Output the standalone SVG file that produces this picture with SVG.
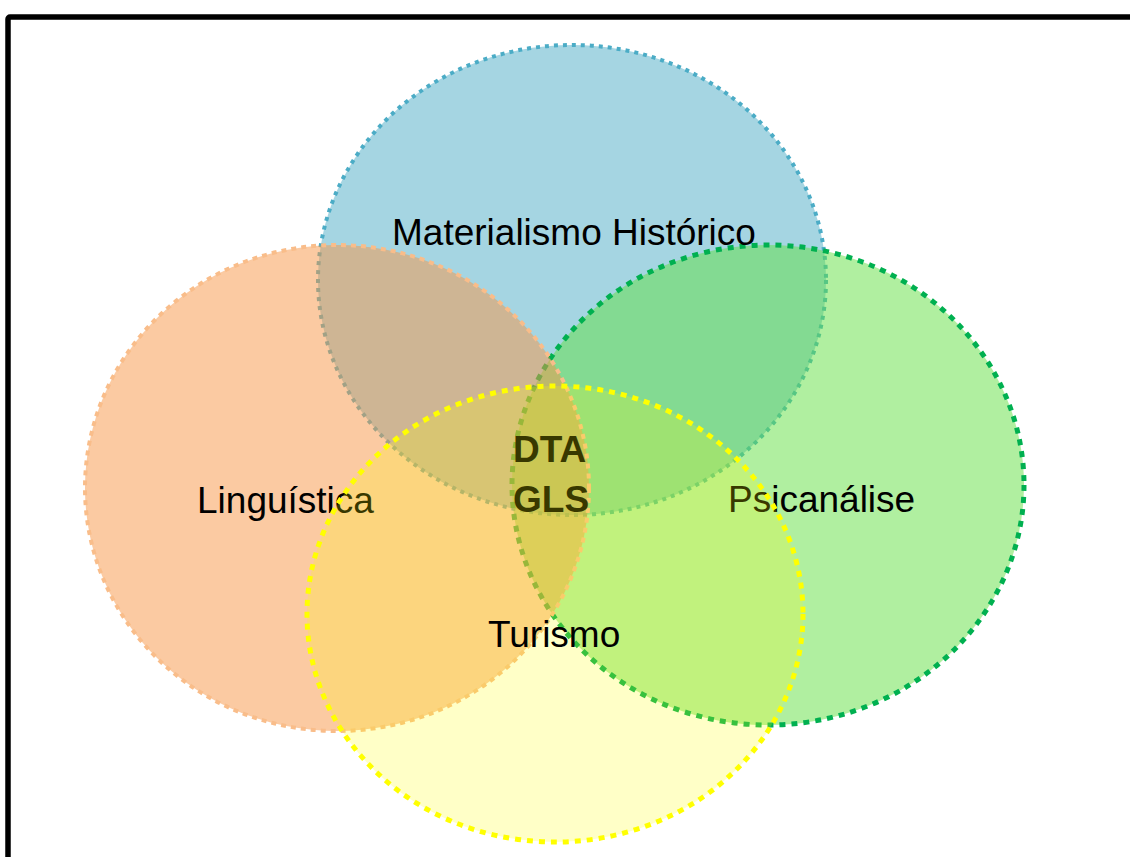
<svg xmlns="http://www.w3.org/2000/svg" width="1130" height="857" viewBox="0 0 1130 857">
  <style>
    .set { stroke-linecap: butt; }
    .blue { fill: #4bacc6; fill-opacity: 0.5; stroke: #4bacc6; stroke-width: 4; stroke-dasharray: 4 5; }
    .green { fill: #61df41; fill-opacity: 0.5; stroke: #00b050; stroke-width: 5; stroke-dasharray: 6 6; }
    .orange { fill: #f79646; fill-opacity: 0.5; stroke: #f9bd8a; stroke-width: 4; stroke-dasharray: 5 5; }
    .yellow { fill: #ffff00; fill-opacity: 0.22; stroke: #ffff00; stroke-width: 5; stroke-dasharray: 6 6; }
    .lbl { font-family: "Liberation Sans", Arial, sans-serif; font-size: 37px; fill: #000000; }
    .core { font-family: "Liberation Sans", Arial, sans-serif; font-size: 37px; font-weight: bold; fill: #000000; }
  </style>
  <rect x="0" y="0" width="1130" height="857" fill="#ffffff"/>
  <rect x="8" y="17" width="1200" height="900" rx="2" fill="none" stroke="#000000" stroke-width="5.5"/>

  <g id="materialismo-historico">
    <ellipse class="set blue" cx="572" cy="280" rx="254" ry="235"/>
  </g>
  <g id="psicanalise">
    <ellipse class="set green" cx="768" cy="485" rx="256" ry="240"/>
  </g>
  <g id="linguistica">
    <ellipse class="set orange" cx="337" cy="488" rx="252" ry="243"/>
  </g>

  <g id="labels">
    <text class="lbl" x="392" y="245">Materialismo Histórico</text>
    <text class="lbl" x="197" y="513">Linguística</text>
    <text class="lbl" x="728" y="512">Psicanálise</text>
    <text class="core" x="513" y="462">DTA</text>
    <text class="core" x="513" y="512">GLS</text>
  </g>

  <g id="turismo">
    <ellipse class="set yellow" cx="555" cy="614" rx="248" ry="228"/>
    <text class="lbl" x="488" y="647">Turismo</text>
  </g>

  <g id="connectors"></g>
</svg>
